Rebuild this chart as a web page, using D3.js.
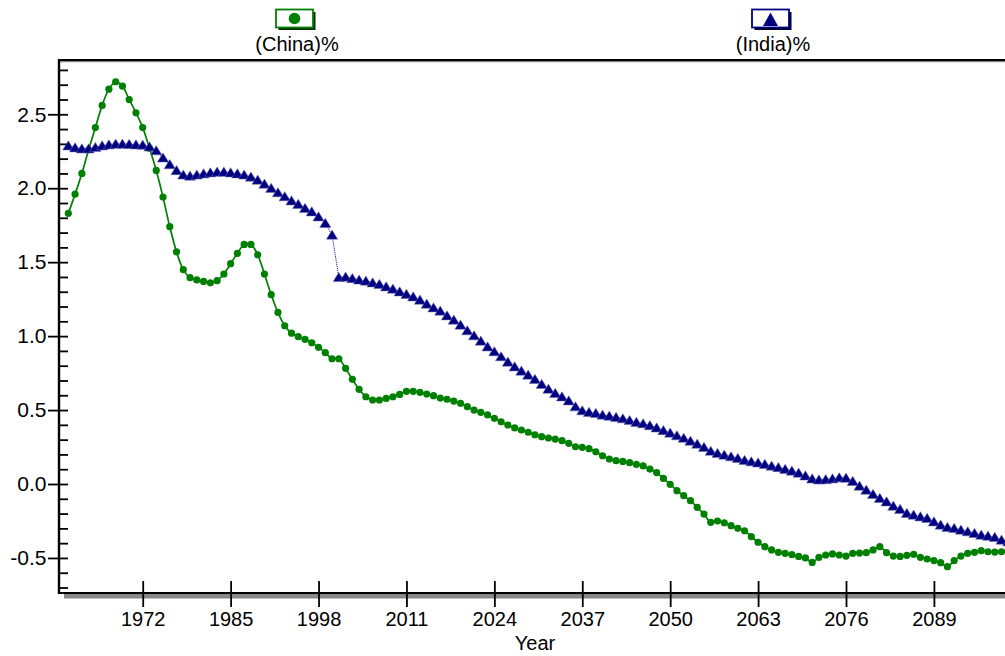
<!DOCTYPE html>
<html>
<head>
<meta charset="utf-8">
<script src="https://cdn.jsdelivr.net/npm/d3@7"></script>
<style>
  body { margin: 0; background: #fff; }
  svg { display: block; font-family: "Liberation Sans", Arial, sans-serif; }
  .axis text { font-size: 20px; fill: #000; }
</style>
</head>
<body>
<svg id="chart" width="1005" height="656"></svg>
<script>
// years 1961..2100, one value per year
var years = d3.range(1961, 2101);

var china = [
  1.83, 1.96, 2.10, 2.26, 2.41, 2.56, 2.67, 2.72, 2.69, 2.60,
  2.51, 2.41, 2.27, 2.12, 1.94, 1.74, 1.57, 1.45, 1.395, 1.38,
  1.37, 1.36, 1.375, 1.42, 1.49, 1.56, 1.62, 1.62, 1.55, 1.42,
  1.28, 1.16, 1.07, 1.02, 0.996, 0.978, 0.955, 0.924, 0.888, 0.847,
  0.847, 0.782, 0.708, 0.64, 0.59, 0.568, 0.568, 0.579, 0.59, 0.606,
  0.627, 0.627, 0.62, 0.608, 0.597, 0.581, 0.573, 0.561, 0.546, 0.523,
  0.50, 0.485, 0.467, 0.444, 0.421, 0.399, 0.379, 0.365, 0.35, 0.333,
  0.32, 0.311, 0.304, 0.293, 0.275, 0.252, 0.248, 0.239, 0.218, 0.191,
  0.169, 0.158, 0.153, 0.144, 0.133, 0.122, 0.101, 0.077, 0.038, -0.002,
  -0.045, -0.079, -0.113, -0.158, -0.203, -0.259, -0.25, -0.262, -0.282, -0.30,
  -0.316, -0.356, -0.394, -0.424, -0.446, -0.462, -0.469, -0.478, -0.49, -0.50,
  -0.53, -0.496, -0.48, -0.473, -0.48, -0.487, -0.469, -0.467, -0.464, -0.446,
  -0.424, -0.464, -0.487, -0.49, -0.482, -0.475, -0.496, -0.507, -0.518, -0.532,
  -0.559, -0.518, -0.487, -0.469, -0.462, -0.451, -0.458, -0.46, -0.458, -0.446
];

var india = [
  2.287, 2.274, 2.267, 2.267, 2.276, 2.287, 2.294, 2.299, 2.299, 2.297,
  2.294, 2.292, 2.28, 2.254, 2.205, 2.16, 2.12, 2.09, 2.083, 2.09,
  2.098, 2.105, 2.11, 2.11, 2.105, 2.098, 2.09, 2.076, 2.055, 2.028,
  2.0, 1.97, 1.943, 1.915, 1.891, 1.864, 1.841, 1.807, 1.763, 1.684,
  1.397, 1.40, 1.39, 1.38, 1.373, 1.361, 1.35, 1.334, 1.318, 1.30,
  1.283, 1.266, 1.244, 1.217, 1.192, 1.17, 1.138, 1.109, 1.075, 1.037,
  1.003, 0.967, 0.928, 0.895, 0.861, 0.825, 0.793, 0.764, 0.737, 0.708,
  0.674, 0.642, 0.613, 0.59, 0.563, 0.523, 0.496, 0.485, 0.478, 0.467,
  0.46, 0.451, 0.442, 0.43, 0.418, 0.408, 0.395, 0.38, 0.362, 0.345,
  0.327, 0.31, 0.29, 0.27, 0.248, 0.222, 0.208, 0.196, 0.185, 0.174,
  0.16, 0.151, 0.143, 0.133, 0.122, 0.112, 0.1, 0.088, 0.074, 0.055,
  0.035, 0.028, 0.03, 0.036, 0.043, 0.04, 0.018, -0.014, -0.041, -0.07,
  -0.097, -0.12, -0.149, -0.171, -0.198, -0.21, -0.221, -0.232, -0.255, -0.277,
  -0.293, -0.30, -0.311, -0.322, -0.333, -0.345, -0.352, -0.36, -0.379, -0.39
];

var xTicks = [1972, 1985, 1998, 2011, 2024, 2037, 2050, 2063, 2076, 2089];
var yTicks = [-0.5, 0.0, 0.5, 1.0, 1.5, 2.0, 2.5];
var yMinor = d3.range(-7, 29).map(function(d){ return d / 10; });

var seriesNames = ["(China)%", "(India)%"];
var seriesColors = ["#008000", "#000080"];

var plotL = 59, plotR = 1011, plotT = 60, plotB = 593;

var svg = d3.select("#chart");

var x = d3.scaleLinear().domain([1959.62, 2100.4]).range([plotL, plotR]);
var y = d3.scaleLinear().domain([-0.737, 2.867]).range([plotB, plotT]);

// frame: top line, x-axis shadow
svg.append("line")
  .attr("x1", plotL).attr("x2", 1005).attr("y1", plotT + 1.5).attr("y2", plotT + 1.5)
  .attr("stroke", "#888").attr("stroke-width", 1.5);
svg.append("line")
  .attr("x1", plotL - 1).attr("x2", 1005).attr("y1", plotT).attr("y2", plotT)
  .attr("stroke", "#000").attr("stroke-width", 2);
svg.append("rect")
  .attr("x", 64).attr("y", plotB + 1).attr("width", 1005 - 64).attr("height", 4.5)
  .attr("fill", "#888");

// y axis: minor ticks inside, major ticks crossing with labels
var yInner = svg.append("g").attr("class", "axis")
  .attr("transform", "translate(" + plotL + ",0)")
  .call(d3.axisRight(y).tickValues(yMinor).tickSize(9).tickFormat(""));
yInner.selectAll(".tick line").attr("stroke-width", 1.8);

var yAxis = svg.append("g").attr("class", "axis")
  .attr("transform", "translate(" + plotL + ",0)")
  .call(d3.axisLeft(y).tickValues(yTicks).tickSize(11).tickPadding(1.5)
    .tickFormat(function(d){ return d.toFixed(1); }));
yAxis.selectAll(".tick line").attr("stroke-width", 1.8);
yAxis.selectAll("text").style("font-size", "21px");

// x axis: ticks crossing the line
var xInner = svg.append("g").attr("class", "axis")
  .attr("transform", "translate(0," + plotB + ")")
  .call(d3.axisTop(x).tickValues(xTicks).tickSize(12).tickFormat(""));
xInner.selectAll(".tick line").attr("stroke-width", 1.8);

var xAxis = svg.append("g").attr("class", "axis")
  .attr("transform", "translate(0," + plotB + ")")
  .call(d3.axisBottom(x).tickValues(xTicks).tickSize(14).tickPadding(4.8)
    .tickFormat(d3.format("d")));
xAxis.selectAll(".tick line").attr("stroke-width", 1.8);

svg.selectAll(".domain").remove();

svg.append("line")
  .attr("x1", plotL).attr("x2", plotL).attr("y1", plotT - 1).attr("y2", plotB + 1)
  .attr("stroke", "#000").attr("stroke-width", 2.4);
svg.append("line")
  .attr("x1", plotL - 1).attr("x2", 1005).attr("y1", plotB).attr("y2", plotB)
  .attr("stroke", "#000").attr("stroke-width", 2.2);

svg.append("text")
  .attr("x", (plotL + plotR) / 2).attr("y", 650)
  .attr("text-anchor", "middle").style("font-size", "20px")
  .text("Year");

// china: smooth line + dots
var chinaPts = years.map(function(yr, i){ return [yr, china[i]]; });
var indiaPts = years.map(function(yr, i){ return [yr, india[i]]; });

var smooth = d3.line()
  .x(function(d){ return x(d[0]); })
  .y(function(d){ return y(d[1]); })
  .curve(d3.curveCatmullRom.alpha(0.5));
var straight = d3.line()
  .x(function(d){ return x(d[0]); })
  .y(function(d){ return y(d[1]); });

svg.append("path").datum(chinaPts)
  .attr("d", smooth).attr("fill", "none")
  .attr("stroke", seriesColors[0]).attr("stroke-width", 1.7);

svg.selectAll("circle.china").data(chinaPts).enter()
  .append("circle").classed("china", true)
  .attr("cx", function(d){ return x(d[0]); })
  .attr("cy", function(d){ return y(d[1]); })
  .attr("r", 3.6)
  .attr("fill", seriesColors[0]);

// india: thin dotted line + triangles
svg.append("path").datum(indiaPts)
  .attr("d", straight).attr("fill", "none")
  .attr("stroke", seriesColors[1]).attr("stroke-width", 1)
  .attr("stroke-dasharray", "1,1");

var tri = "M0,-5L5.6,4.2L-5.6,4.2Z";
svg.selectAll("path.india").data(indiaPts).enter()
  .append("path").classed("india", true)
  .attr("d", tri)
  .attr("transform", function(d){ return "translate(" + x(d[0]) + "," + y(d[1]) + ")"; })
  .attr("fill", seriesColors[1])
  .attr("stroke", "#6a6ab4").attr("stroke-width", 0.5);

// legend boxes at 1/4 and 3/4 of plot width
var legendX = [plotL + (plotR - plotL) * 0.25, plotL + (plotR - plotL) * 0.75];
legendX.forEach(function(cx, i){
  var g = svg.append("g").attr("transform", "translate(" + cx + ",0)");
  var bx = -21, by = 9.5, bw = 37, bh = 18;
  g.append("rect")
    .attr("x", bx + 2.5).attr("y", by + 2.5).attr("width", bw).attr("height", bh)
    .attr("fill", i === 0 ? "#052a05" : "#00002a");
  g.append("rect")
    .attr("x", bx).attr("y", by).attr("width", bw).attr("height", bh)
    .attr("fill", "#fff").attr("stroke", seriesColors[i]).attr("stroke-width", 1.8);
  if (i === 0) {
    g.append("circle").attr("cx", bx + bw / 2).attr("cy", by + bh / 2)
      .attr("r", 5.8).attr("fill", seriesColors[0]);
  } else {
    g.append("path")
      .attr("d", "M" + (bx + bw / 2) + "," + (by + 3) + "L" + (bx + bw / 2 + 7.5) + "," + (by + bh - 1.5) +
        "L" + (bx + bw / 2 - 7.5) + "," + (by + bh - 1.5) + "Z")
      .attr("fill", seriesColors[1]);
  }
  g.append("text")
    .attr("x", 0).attr("y", 51)
    .attr("text-anchor", "middle").style("font-size", "20px")
    .text(seriesNames[i]);
});
</script>
</body>
</html>
